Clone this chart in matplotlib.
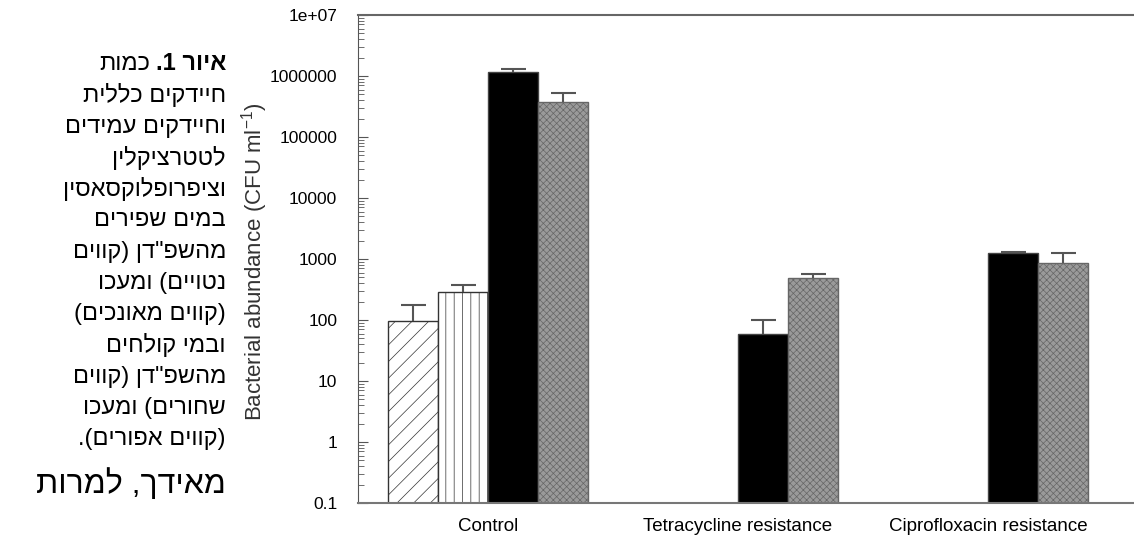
import numpy as np
import matplotlib
matplotlib.use('Agg')
import matplotlib.pyplot as plt

plt.rcParams['font.family'] = ['Liberation Sans', 'DejaVu Sans']
plt.rcParams['hatch.linewidth'] = 0.5

# data (CFU ml-1), nan = bar not shown
groups = ['Control', 'Tetracycline resistance', 'Ciprofloxacin resistance']
sludge_shafdan = [97, np.nan, np.nan]
sludge_maacho = [285, np.nan, np.nan]
effluent_shafdan = [1.15e6, 59, 1250]
effluent_maacho = [3.7e5, 490, 850]
err_sludge_shafdan = [78, np.nan, np.nan]
err_sludge_maacho = [85, np.nan, np.nan]
err_effluent_shafdan = [1.5e5, 41, 60]
err_effluent_maacho = [1.5e5, 80, 390]

ytick_vals = [0.1, 1, 10, 100, 1000, 10000, 100000, 1000000, 1e7]
ytick_labels = ['0.1', '1', '10', '100', '1000', '10000', '100000', '1000000', '1e+07']

caption_bold = 'איור 1.'
caption_first = 'כמות'
caption_lines = ['חיידקים כללית', 'וחיידקים עמידים', 'לטטרציקלין',
                 'וציפרופלוקסאסין', 'במים שפירים', 'מהשפ"דן (קווים',
                 'נטויים) ומעכו', '(קווים מאונכים)', 'ובמי קולחים',
                 'מהשפ"דן (קווים', 'שחורים) ומעכו', '(קווים אפורים).']
body_line = 'מאידך, למרות'


def vis(s):
    # matplotlib has no bidi support: reverse and mirror brackets
    return s[::-1].translate(str.maketrans('()', ')('))


W, H = 1134, 540
fig = plt.figure(figsize=(W / 100, H / 100), dpi=100)
ax = fig.add_axes([358 / W, 37 / H, 1 - 358 / W, (503 - 15) / H])

x = np.arange(len(groups))
bw = 0.2
series = [
    (sludge_shafdan, err_sludge_shafdan, dict(facecolor='white', edgecolor='#333333', hatch='//')),
    (sludge_maacho, err_sludge_maacho, dict(facecolor='white', edgecolor='#333333', hatch='||')),
    (effluent_shafdan, err_effluent_shafdan, dict(facecolor='black', edgecolor='#444444')),
    (effluent_maacho, err_effluent_maacho, dict(facecolor='#9a9a9a', edgecolor='#666666', hatch='xxxxx')),
]
for i, (vals, errs, style) in enumerate(series):
    xs = x + (i - 1.5) * bw
    vals = np.array(vals, dtype=float)
    errs = np.array(errs, dtype=float)
    ax.bar(xs, vals, width=bw, linewidth=1.0, zorder=2, **style)
    _, caps, _ = ax.errorbar(xs, vals, yerr=[np.zeros_like(errs), errs], fmt='none',
                             ecolor='#555555', elinewidth=1.5, capsize=9,
                             capthick=1.5, zorder=3)
    caps[0].set_visible(False)

ax.set_yscale('log')
ax.set_ylim(0.1, 1e7)
ax.set_xlim(-0.52, 2.584)
ax.set_yticks(ytick_vals)
ax.set_yticklabels(ytick_labels, fontsize=12.5)
ax.yaxis.set_minor_locator(matplotlib.ticker.LogLocator(base=10, subs=np.arange(2, 10)))
ax.yaxis.set_minor_formatter(matplotlib.ticker.NullFormatter())
ax.tick_params(axis='y', which='major', direction='in', length=7, color='#555555', pad=15)
ax.tick_params(axis='y', which='minor', direction='in', length=4, color='#555555')
ax.set_xticks(x)
ax.set_xticklabels(groups, fontsize=13.5)
ax.tick_params(axis='x', length=0, pad=11)

ax.spines['right'].set_visible(False)
ax.spines['top'].set_color('#666666')
ax.spines['top'].set_linewidth(1.5)
ax.spines['bottom'].set_color('#777777')
ax.spines['bottom'].set_linewidth(1.5)
ax.spines['left'].set_color('#555555')

fig.text(255 / W, 1 - 262 / H, 'Bacterial abundance (CFU ml$^{\\mathregular{-1}}$)',
         rotation=90, ha='center', va='center', fontsize=16, color='#333333')

# Hebrew caption on the left, right aligned
xr = 226 / W
fs = 17
t = fig.text(xr, 1 - 64 / H, vis(caption_bold), ha='right', va='center',
             fontsize=fs, fontweight='bold')
fig.canvas.draw()
bb = t.get_window_extent(fig.canvas.get_renderer())
fig.text((bb.x0 - 5) / W, 1 - 64 / H, vis(caption_first), ha='right', va='center',
         fontsize=fs)
for k, line in enumerate(caption_lines):
    fig.text(xr, 1 - (95.3 + 31.25 * k) / H, vis(line), ha='right', va='center',
             fontsize=fs)
fig.text(xr, 1 - 484 / H, vis(body_line), ha='right', va='center', fontsize=23)

fig.savefig('out.png', dpi=100)
